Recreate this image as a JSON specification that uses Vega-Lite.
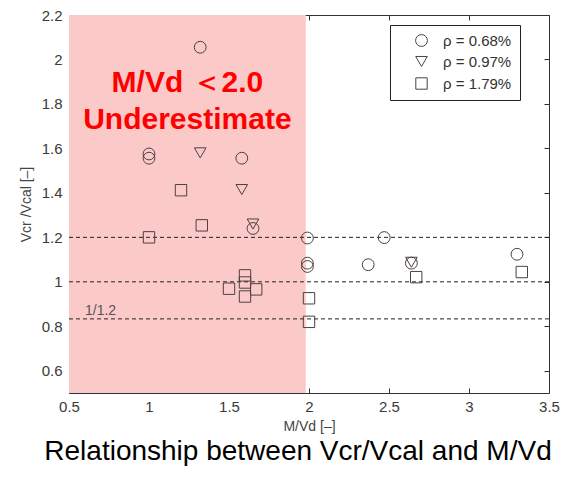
{
  "$schema": "https://vega.github.io/schema/vega-lite/v6.json",
  "width": 480,
  "height": 378,
  "autosize": {"type": "none"},
  "padding": {"left": 69, "top": 15, "right": 25, "bottom": 86},
  "background": "white",
  "title": {
    "text": "Relationship between Vcr/Vcal and M/Vd",
    "orient": "bottom",
    "anchor": "middle",
    "fontSize": 28,
    "fontWeight": "normal",
    "font": "Liberation Sans",
    "color": "black",
    "offset": 5,
    "dx": -11
  },
  "config": {
    "view": {"stroke": "#333", "strokeWidth": 1},
    "axis": {
      "grid": false,
      "domain": false,
      "labelFont": "Liberation Sans",
      "labelFontSize": 15,
      "labelColor": "#3a3a3a",
      "titleFont": "Liberation Sans",
      "titleFontSize": 14,
      "titleFontWeight": "normal",
      "titleColor": "#444",
      "tickColor": "#333",
      "tickSize": 5,
      "offset": -5,
      "tickWidth": 1,
      "labelFlush": false,
      "labelOverlap": false,
      "zindex": 1
    }
  },
  "datasets": {
    "points": [
      {"series": "ρ = 0.68%", "mvd": 1.32, "ratio": 2.055},
      {"series": "ρ = 0.68%", "mvd": 1.0, "ratio": 1.575},
      {"series": "ρ = 0.68%", "mvd": 1.0, "ratio": 1.556},
      {"series": "ρ = 0.68%", "mvd": 1.58, "ratio": 1.556},
      {"series": "ρ = 0.68%", "mvd": 1.65, "ratio": 1.24},
      {"series": "ρ = 0.68%", "mvd": 1.99, "ratio": 1.197},
      {"series": "ρ = 0.68%", "mvd": 1.99, "ratio": 1.084},
      {"series": "ρ = 0.68%", "mvd": 1.99, "ratio": 1.069},
      {"series": "ρ = 0.68%", "mvd": 2.47, "ratio": 1.199},
      {"series": "ρ = 0.68%", "mvd": 2.37, "ratio": 1.077},
      {"series": "ρ = 0.68%", "mvd": 2.64, "ratio": 1.084},
      {"series": "ρ = 0.68%", "mvd": 3.30, "ratio": 1.124},
      {"series": "ρ = 0.97%", "mvd": 1.32, "ratio": 1.58},
      {"series": "ρ = 0.97%", "mvd": 1.58, "ratio": 1.415},
      {"series": "ρ = 0.97%", "mvd": 1.65, "ratio": 1.26},
      {"series": "ρ = 0.97%", "mvd": 2.64, "ratio": 1.088},
      {"series": "ρ = 1.79%", "mvd": 1.0, "ratio": 1.2},
      {"series": "ρ = 1.79%", "mvd": 1.2, "ratio": 1.412},
      {"series": "ρ = 1.79%", "mvd": 1.33, "ratio": 1.254},
      {"series": "ρ = 1.79%", "mvd": 1.5, "ratio": 0.969},
      {"series": "ρ = 1.79%", "mvd": 1.6, "ratio": 1.029},
      {"series": "ρ = 1.79%", "mvd": 1.6, "ratio": 0.997},
      {"series": "ρ = 1.79%", "mvd": 1.6, "ratio": 0.934},
      {"series": "ρ = 1.79%", "mvd": 1.67, "ratio": 0.966},
      {"series": "ρ = 1.79%", "mvd": 2.0, "ratio": 0.926},
      {"series": "ρ = 1.79%", "mvd": 2.0, "ratio": 0.82},
      {"series": "ρ = 1.79%", "mvd": 2.67, "ratio": 1.021},
      {"series": "ρ = 1.79%", "mvd": 3.33, "ratio": 1.044}
    ]
  },
  "layer": [
    {
      "data": {"values": [{"x0": 0.5, "x1": 1.98, "y0": 0.5, "y1": 2.2}]},
      "mark": {"type": "rect", "color": "#fcc9c9"},
      "encoding": {
        "x": {
          "field": "x0", "type": "quantitative",
          "scale": {"domain": [0.5, 3.5], "nice": false, "zero": false},
          "axis": {
            "orient": "bottom",
            "values": [0.5, 1, 1.5, 2, 2.5, 3, 3.5],
            "format": "~f",
            "title": "M/Vd [–]",
            "labelPadding": 6,
            "titlePadding": 5
          }
        },
        "x2": {"field": "x1"},
        "y": {
          "field": "y0", "type": "quantitative",
          "scale": {"domain": [0.5, 2.2], "nice": false, "zero": false},
          "axis": {
            "orient": "left",
            "values": [0.6, 0.8, 1, 1.2, 1.4, 1.6, 1.8, 2, 2.2],
            "format": "~f",
            "title": "Vcr /Vcal [–]",
            "labelPadding": 7,
            "titlePadding": 8
          }
        },
        "y2": {"field": "y1"}
      }
    },
    {
      "data": {"values": [{"v": 1.2}, {"v": 1.0}, {"v": 0.8333}]},
      "mark": {"type": "rule", "color": "#222", "strokeWidth": 1, "strokeDash": [4, 3]},
      "encoding": {
        "y": {
          "field": "v", "type": "quantitative",
          "axis": {
            "orient": "right",
            "values": [0.6, 0.8, 1, 1.2, 1.4, 1.6, 1.8, 2, 2.2],
            "labels": false,
            "title": null
          }
        }
      }
    },
    {
      "data": {"name": "points"},
      "mark": {"type": "point", "filled": false, "stroke": "#4a4242", "strokeWidth": 1, "opacity": 1},
      "encoding": {
        "x": {
          "field": "mvd", "type": "quantitative",
          "axis": {
            "orient": "top",
            "values": [0.5, 1, 1.5, 2, 2.5, 3, 3.5],
            "labels": false,
            "title": null
          }
        },
        "y": {"field": "ratio", "type": "quantitative", "axis": null},
        "shape": {
          "field": "series", "type": "nominal",
          "scale": {
            "domain": ["ρ = 0.68%", "ρ = 0.97%", "ρ = 1.79%"],
            "range": ["circle", "triangle-down", "square"]
          },
          "legend": {
            "orient": "none",
            "legendX": 321,
            "legendY": 10,
            "title": null,
            "padding": 8,
            "strokeColor": "#222",
            "fillColor": "white",
            "symbolOffset": 16,
            "labelOffset": 14,
            "rowPadding": 5,
            "labelFont": "Liberation Sans",
            "labelFontSize": 15,
            "labelColor": "#333",
            "symbolStrokeColor": "#333",
            "symbolFillColor": "transparent",
            "symbolStrokeWidth": 1,
            "labelExpr": "datum.label + '\u00a0\u00a0\u00a0\u00a0'"
          }
        },
        "size": {
          "field": "series", "type": "nominal",
          "scale": {
            "domain": ["ρ = 0.68%", "ρ = 0.97%", "ρ = 1.79%"],
            "range": [140, 130, 90]
          }
        }
      }
    },
    {
      "data": {"values": [
        {"label": "M/Vd ＜2.0", "tx": 1.24, "ty": 1.894},
        {"label": "Underestimate", "tx": 1.24, "ty": 1.727}
      ]},
      "mark": {"type": "text", "color": "#ff0000", "fontSize": 30, "fontWeight": "bold", "font": "Liberation Sans", "align": "center", "baseline": "middle"},
      "encoding": {
        "x": {"field": "tx", "type": "quantitative", "axis": null},
        "y": {"field": "ty", "type": "quantitative", "axis": null},
        "text": {"field": "label"}
      }
    },
    {
      "data": {"values": [{"label": "1/1.2", "tx": 0.6, "ty": 0.871}]},
      "mark": {"type": "text", "color": "#555", "fontSize": 14, "font": "Liberation Sans", "align": "left", "baseline": "middle"},
      "encoding": {
        "x": {"field": "tx", "type": "quantitative", "axis": null},
        "y": {"field": "ty", "type": "quantitative", "axis": null},
        "text": {"field": "label"}
      }
    }
  ],
  "resolve": {"axis": {"x": "independent", "y": "independent"}}
}
